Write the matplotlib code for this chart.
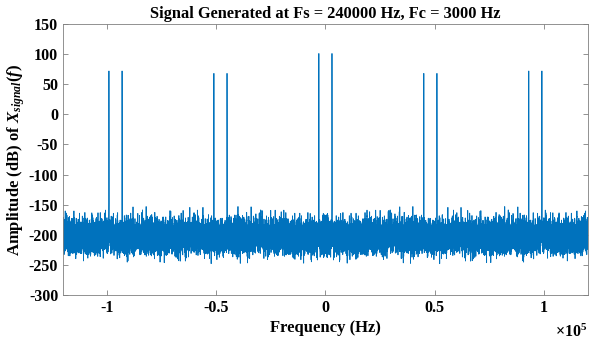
import numpy as np
import matplotlib.pyplot as plt
from matplotlib.ticker import FuncFormatter

plt.rcParams['font.family'] = 'Liberation Serif'
plt.rcParams['font.weight'] = 'bold'
plt.rcParams['axes.unicode_minus'] = False
plt.rcParams['mathtext.fontset'] = 'custom'
plt.rcParams['mathtext.rm'] = 'Liberation Serif:bold'
plt.rcParams['mathtext.it'] = 'Liberation Serif:italic:bold'

# sampling setup (from the title)
Fs = 240000
Fc = 3000
N = 240000

# spectral lines: frequency (Hz) and peak level (dB)
line_freqs = [3000, 45000, 51000, 93000, 99000]
line_db = [101, 68, 68, 72, 72]

xticks = [-1e5, -0.5e5, 0, 0.5e5, 1e5]
yticks = [-300, -250, -200, -150, -100, -50, 0, 50, 100, 150]

# build the time signal and take its spectrum
t = np.arange(N) / Fs
amps = 2 * 10 ** (np.array(line_db) / 20) / N
x = np.zeros(N)
for f, a in zip(line_freqs, amps):
    x += a * np.cos(2 * np.pi * f * t)

X = np.fft.fftshift(np.fft.fft(x))
freq = np.fft.fftshift(np.fft.fftfreq(N, 1 / Fs))
mag = 20 * np.log10(np.abs(X) + 1e-300)

fig = plt.figure(figsize=(5.89, 3.43), dpi=100)
ax = fig.add_axes([0.107, 0.140, 0.891, 0.790])
ax.plot(freq, mag, color='#0072BD', lw=0.6)

ax.set_xlim(-1.2e5, 1.2e5)
ax.set_ylim(-300, 150)
ax.set_xticks(xticks)
ax.set_yticks(yticks)
ax.xaxis.set_major_formatter(FuncFormatter(lambda v, p: '%g' % (v / 1e5)))
ax.tick_params(direction='in', top=True, right=True, labelsize=11.5,
               color='#808080', length=3.5, width=0.6)
for s in ax.spines.values():
    s.set_color('#808080')
    s.set_linewidth(0.6)

ax.set_title('Signal Generated at Fs = 240000 Hz, Fc = 3000 Hz',
             fontsize=11.8, fontweight='bold', pad=4)
ax.set_xlabel('Frequency (Hz)', fontsize=12, fontweight='bold', labelpad=3)
ax.set_ylabel(r'Amplitude (dB) of $X_{signal}(f)$', fontsize=12,
              fontweight='bold', labelpad=1)
ax.text(1.0, -0.105, r'$\times10^{5}$', transform=ax.transAxes,
        ha='right', va='top', fontsize=11.5)

fig.savefig('out.png', dpi=100)
